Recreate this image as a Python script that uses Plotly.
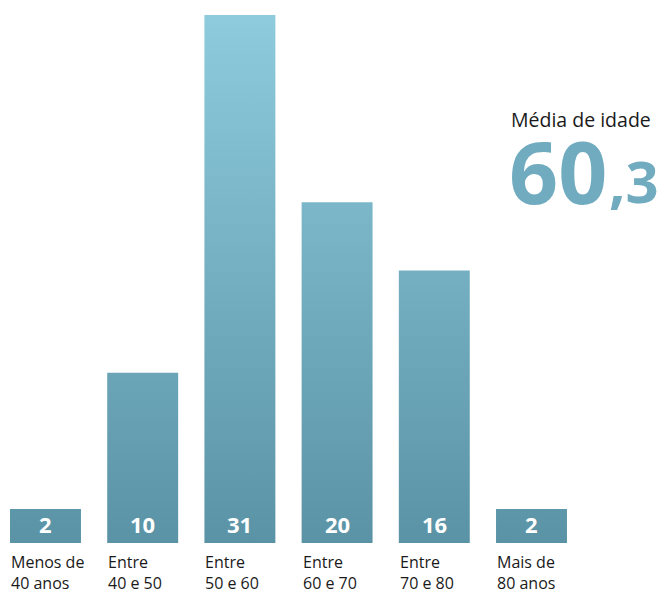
import plotly.graph_objects as go

categories = ["Menos de<br>40 anos", "Entre<br>40 e 50", "Entre<br>50 e 60",
              "Entre<br>60 e 70", "Entre<br>70 e 80", "Mais de<br>80 anos"]
values = [2, 10, 31, 20, 16, 2]
value_labels = ["2", "10", "31", "20", "16", "2"]
mean_label = "Média de idade"
mean_int = "60"
mean_dec = ",3"

W, H = 660, 593
half_w = 0.365
ymax = max(values)

fig = go.Figure()
for i, v in enumerate(values):
    fig.add_trace(go.Scatter(
        x=[i - half_w, i + half_w, i + half_w, i - half_w, i - half_w],
        y=[0, 0, v, v, 0],
        mode="lines", line=dict(width=0), fill="toself",
        fillgradient=dict(type="vertical", start=0, stop=ymax,
                          colorscale=[[0, "#5a93a5"], [1, "#8dcbdd"]]),
        hoverinfo="skip", showlegend=False))

annotations = []
for i, (c, lab) in enumerate(zip(categories, value_labels)):
    annotations.append(dict(
        x=i, y=0, xref="x", yref="y", text=f"<b>{lab}</b>", showarrow=False,
        xanchor="center", yanchor="bottom", yshift=2,
        font=dict(family="Open Sans", size=22, color="white")))
    annotations.append(dict(
        x=i - half_w, y=0, xref="x", yref="y", text=c, showarrow=False,
        xanchor="left", yanchor="top", yshift=-6, xshift=-1, align="left",
        font=dict(family="Open Sans", size=16, color="#1a1a1a")))

annotations.append(dict(
    x=509 / W, y=(543 - 119) / 543, xref="paper", yref="paper", text=mean_label,
    showarrow=False, xanchor="left", yanchor="middle",
    font=dict(family="Open Sans", size=19.5, color="#1a1a1a")))
annotations.append(dict(
    x=507 / W, y=(543 - 170) / 543, xref="paper", yref="paper", text=mean_int,
    showarrow=False, xanchor="left", yanchor="middle",
    font=dict(family="Open Sans", size=86, color="#70abbf", weight=700)))
annotations.append(dict(
    x=661 / W, y=(543 - 180) / 543, xref="paper", yref="paper", text=mean_dec,
    showarrow=False, xanchor="right", yanchor="middle",
    font=dict(family="Open Sans", size=58, color="#70abbf", weight=700)))

fig.update_layout(
    width=W, height=H, margin=dict(l=0, r=0, t=0, b=50),
    paper_bgcolor="white", plot_bgcolor="white",
    xaxis=dict(range=[-0.468, 6.322], visible=False, fixedrange=True),
    yaxis=dict(range=[0, 31.88], visible=False, fixedrange=True),
    annotations=annotations, showlegend=False)

fig.write_html("out.html", config={"displayModeBar": False},
               post_script="document.body.style.margin='0';document.body.style.overflow='hidden';")
